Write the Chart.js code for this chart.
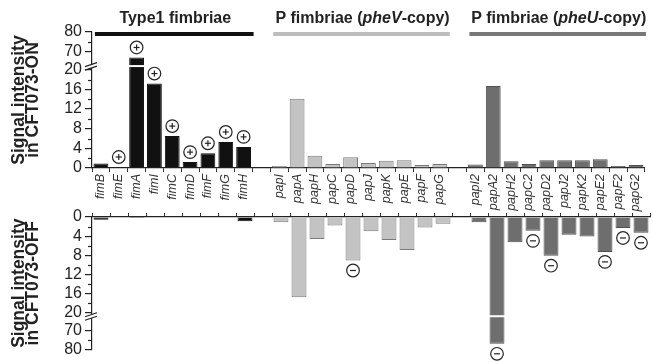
<!DOCTYPE html>
<html>
<head>
<meta charset="utf-8">
<script src="https://cdn.jsdelivr.net/npm/chart.js@4.4.1/dist/chart.umd.min.js"></script>
<style>
  body { margin: 0; background: #fff; width: 653px; height: 362px; overflow: hidden; position: relative; }
  #top { position: absolute; left: 0; top: 0; width: 653px; height: 216px; }
  #bot { position: absolute; left: 0; top: 200px; width: 653px; height: 162px; }
</style>
</head>
<body>
<div id="top"><canvas id="cTop"></canvas></div>
<div id="bot"><canvas id="cBot"></canvas></div>
<script>
const fimGenes = ['fimB', 'fimE', 'fimA', 'fimI', 'fimC', 'fimD', 'fimF', 'fimG', 'fimH'];
const pheVGenes = ['papI', 'papA', 'papH', 'papC', 'papD', 'papJ', 'papK', 'papE', 'papF', 'papG'];
const pheUGenes = ['papI2', 'papA2', 'papH2', 'papC2', 'papD2', 'papJ2', 'papK2', 'papE2', 'papF2', 'papG2'];

// signal intensity, CFT073-ON (upper panel)
const fimOn = [0.9, 0.2, 53, 17.2, 6.5, 1.2, 3.0, 5.3, 4.3];
const pheVOn = [0.4, 14.1, 2.5, 0.8, 2.2, 1.0, 1.5, 1.6, 0.6, 0.8];
const pheUOn = [0.7, 16.7, 1.4, 0.8, 1.6, 1.6, 1.6, 1.8, 0.4, 0.6];
// signal intensity, CFT073-OFF (lower panel)
const fimOff = [0.6, 0, 0.2, 0, 0, 0, 0, 0, 0.9];
const pheVOff = [1.1, 16.8, 4.6, 1.8, 9.1, 3.0, 4.8, 6.9, 2.2, 1.4];
const pheUOff = [1.1, 77, 5.3, 2.9, 8.1, 3.7, 4.1, 7.3, 2.3, 3.3];

const plusMarks = ['fimE', 'fimA', 'fimI', 'fimC', 'fimD', 'fimF', 'fimG', 'fimH'];
const minusMarks = ['papD', 'papA2', 'papC2', 'papD2', 'papE2', 'papF2', 'papG2'];

const yTicks = [0, 4, 8, 12, 16, 20, 70, 80];
const yMinor = [2, 6, 10, 14, 18, 75];
const breakAt = 30;

// broken axis: 0-20 linear, 20-70 squeezed, 70-80 compressed
const axisMap = [[0, 0], [20, 20], [70, 23.8], [80, 27.7]];
function squeeze(v) {
  if (v <= 0) return v;
  for (let i = 1; i < axisMap.length; i++) {
    const [a, ta] = axisMap[i - 1], [b, tb] = axisMap[i];
    if (v <= b) return ta + (v - a) / (b - a) * (tb - ta);
  }
  return axisMap[axisMap.length - 1][1];
}
class BrokenScale extends Chart.LinearScale {
  getPixelForValue(v) { return super.getPixelForValue(squeeze(v)); }
}
BrokenScale.id = 'broken';
BrokenScale.defaults = Chart.LinearScale.defaults;
Chart.register(BrokenScale);

const labels = [...fimGenes, '', ...pheVGenes, '', ...pheUGenes];
const fill = [...fimGenes.map(() => '#111'), null, ...pheVGenes.map(() => '#c3c3c3'), null, ...pheUGenes.map(() => '#6e6e6e')];
const edge = [...fimGenes.map(() => '#111'), null, ...pheVGenes.map(() => '#7a7a7a'), null, ...pheUGenes.map(() => '#505050')];

const font = '"Liberation Sans", Arial, sans-serif';

function line(ctx, x1, y1, x2, y2) {
  ctx.beginPath(); ctx.moveTo(x1, y1); ctx.lineTo(x2, y2); ctx.stroke();
}

function drawParts(ctx, parts, cx, cy) {
  let total = 0;
  parts.forEach(p => { ctx.font = p[1] + ' 16px ' + font; total += ctx.measureText(p[0]).width; });
  let x = cx - total / 2;
  ctx.textBaseline = 'middle';
  ctx.textAlign = 'left';
  parts.forEach(p => {
    ctx.font = p[1] + ' 16px ' + font;
    ctx.fillText(p[0], x, cy);
    x += ctx.measureText(p[0]).width;
  });
}

const decor = {
  id: 'decor',
  afterDatasetsDraw(chart, args, opts) {
    const ctx = chart.ctx, xs = chart.scales.x, ys = chart.scales.y;
    const meta = chart.getDatasetMeta(0);
    const vals = chart.data.datasets[0].data;
    const yb = ys.getPixelForValue(breakAt);
    ctx.save();

    // cut through bars that cross the break
    meta.data.forEach((bar, i) => {
      if (vals[i] > breakAt) {
        ctx.fillStyle = '#fff';
        ctx.fillRect(bar.x - bar.width / 2 - 1, yb - 1, bar.width + 2, 2);
      }
    });

    // minor ticks
    ctx.strokeStyle = '#222';
    ctx.lineWidth = 1.2;
    const ax = chart.chartArea.left;
    yMinor.forEach(v => {
      const py = Math.round(ys.getPixelForValue(v)) + 0.5;
      line(ctx, ax - 4, py, ax, py);
    });

    // axis break
    ctx.fillStyle = '#fff';
    ctx.fillRect(ax - 3, yb - 2, 6, 4);
    line(ctx, ax - 7, yb + 0.5, ax + 5, yb - 3.5);
    line(ctx, ax - 7, yb + 4, ax + 5, yb);

    // +/- circles
    opts.marks.forEach(name => {
      const bar = meta.data[labels.indexOf(name)];
      const cx = bar.x, cy = bar.y + opts.dir * 10;
      ctx.beginPath();
      ctx.arc(cx, cy, 6.3, 0, Math.PI * 2);
      ctx.fillStyle = '#fff';
      ctx.fill();
      ctx.strokeStyle = '#222';
      ctx.lineWidth = 1.2;
      ctx.stroke();
      line(ctx, cx - 3, cy, cx + 3, cy);
      if (opts.dir < 0) line(ctx, cx, cy - 3, cx, cy + 3);
    });

    // group titles and bars
    if (opts.titles) {
      const groups = [
        [fimGenes, '#111', [['Type1 fimbriae', 'bold']]],
        [pheVGenes, '#bdbdbd', [['P fimbriae (', 'bold'], ['pheV', 'italic bold'], ['-copy)', 'bold']]],
        [pheUGenes, '#777', [['P fimbriae (', 'bold'], ['pheU', 'italic bold'], ['-copy)', 'bold']]]
      ];
      groups.forEach(([genes, col, parts]) => {
        const x1 = xs.getPixelForValue(labels.indexOf(genes[0]));
        const x2 = xs.getPixelForValue(labels.indexOf(genes[genes.length - 1]));
        ctx.fillStyle = col;
        ctx.fillRect(x1 - 6, 32, x2 - x1 + 16, 4);
        ctx.fillStyle = '#222';
        drawParts(ctx, parts, (x1 + x2) / 2 + 3, 19);
      });
    }
    ctx.restore();
  }
};

function makeChart(id, values, bottom) {
  return new Chart(document.getElementById(id), {
    type: 'bar',
    data: {
      labels: labels,
      datasets: [{
        data: values,
        backgroundColor: fill,
        borderColor: edge,
        borderWidth: 1,
        barPercentage: 0.83,
        categoryPercentage: 1
      }]
    },
    options: {
      responsive: true,
      maintainAspectRatio: false,
      animation: false,
      layout: { padding: bottom ? { top: 0, right: 3, bottom: 9, left: 0 } : { top: 32, right: 3, bottom: 0, left: 0 } },
      plugins: {
        legend: { display: false },
        tooltip: { enabled: false },
        decor: { marks: bottom ? minusMarks : plusMarks, dir: bottom ? 1 : -1, titles: !bottom }
      },
      scales: {
        x: {
          position: bottom ? 'top' : 'bottom',
          afterFit: s => { s.height = bottom ? 17 : 48; },
          grid: { drawOnChartArea: false, tickLength: 4, color: '#333', offset: true },
          border: { color: '#222', width: 1.2 },
          ticks: {
            display: !bottom,
            autoSkip: false,
            minRotation: 90,
            maxRotation: 90,
            padding: 2,
            color: '#333',
            font: { family: font, size: 12.5, style: 'italic' }
          }
        },
        y: {
          type: 'broken',
          reverse: bottom,
          min: 0,
          max: 27.7,
          afterFit: s => { s.width = 92; },
          afterBuildTicks: s => { s.ticks = yTicks.map(v => ({ value: v })); },
          grid: { drawOnChartArea: false, tickLength: 7, color: '#222', lineWidth: 1.2 },
          border: { color: '#222', width: 1.2 },
          ticks: { autoSkip: false, padding: 3, color: '#222', font: { family: font, size: 16 } },
          title: {
            display: true,
            text: ['Signal intensity', bottom ? 'in CFT073-OFF' : 'in CFT073-ON'],
            color: '#222',
            padding: { top: 12, bottom: 0 },
            font: { family: font, size: 17.5, weight: 'bold', lineHeight: 0.8 }
          }
        }
      }
    },
    plugins: [decor]
  });
}

makeChart('cTop', [...fimOn, null, ...pheVOn, null, ...pheUOn], false);
makeChart('cBot', [...fimOff, null, ...pheVOff, null, ...pheUOff], true);
</script>
</body>
</html>
